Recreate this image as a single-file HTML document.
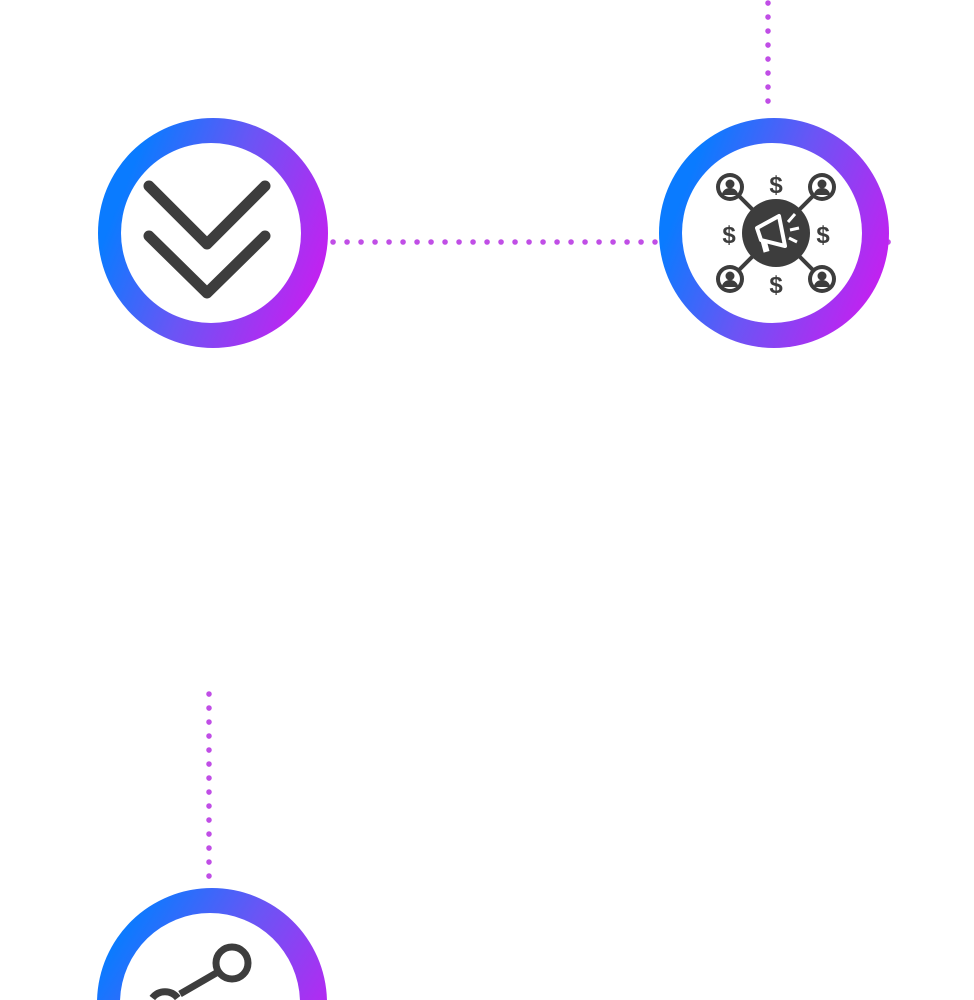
<!DOCTYPE html>
<html><head><meta charset="utf-8"><style>
html,body{margin:0;padding:0;background:#fff;overflow:hidden;width:974px;height:1000px}
svg{display:block}
</style></head><body>
<svg width="974" height="1000" viewBox="0 0 974 1000" xmlns="http://www.w3.org/2000/svg">
<defs>
<linearGradient id="g" x1="0" y1="0.3" x2="1" y2="0.7">
<stop offset="0.1" stop-color="#0a7bff"/>
<stop offset="0.5" stop-color="#6a55f5"/>
<stop offset="1" stop-color="#c81ef0"/>
</linearGradient>
<linearGradient id="g2" gradientUnits="userSpaceOnUse" x1="97" y1="920" x2="327" y2="1060">
<stop offset="0.1" stop-color="#0a7bff"/>
<stop offset="0.5" stop-color="#6a55f5"/>
<stop offset="1" stop-color="#c81ef0"/>
</linearGradient>
<clipPath id="c"><rect x="0" y="0" width="974" height="1000"/></clipPath>
</defs>
<g clip-path="url(#c)">
<g stroke="#c04ee6" stroke-width="5.5" stroke-linecap="round" stroke-dasharray="0.1 13.9" fill="none">
<line x1="333" y1="242" x2="655" y2="242"/>
<line x1="768" y1="3" x2="768" y2="114"/>
<line x1="888" y1="242" x2="890" y2="242"/>
<line x1="209" y1="694" x2="209" y2="886"/>
</g>
<circle cx="213" cy="233" r="115" fill="url(#g)"/>
<circle cx="211" cy="233" r="90" fill="#fff"/>
<circle cx="774" cy="233" r="115" fill="url(#g)"/>
<circle cx="772" cy="233" r="90" fill="#fff"/>
<path d="M97.04 1000 A115 115 0 0 1 326.96 1000 Z" fill="url(#g2)"/>
<path d="M120.05 1000 A90 90 0 0 1 299.95 1000 Z" fill="#fff"/>
<g stroke="#3d3d3d" stroke-width="11" stroke-linecap="round" stroke-linejoin="round" fill="none">
<polyline points="149,186 207,244 265,186"/>
<polyline points="149,236 207,293 265,236"/>
</g>
<g stroke="#3d3d3d" stroke-width="7" fill="none">
<circle cx="232" cy="963" r="16"/>
<path d="M152.3 998 A16 16 0 0 1 177.7 998"/>
<line x1="218" y1="972" x2="180" y2="994"/>
</g>
<g>
<g stroke="#3d3d3d" stroke-width="4">
<line x1="730" y1="187" x2="822" y2="279"/>
<line x1="822" y1="187" x2="730" y2="279"/>
</g>
<circle cx="776" cy="233" r="34" fill="#3d3d3d"/>
<g fill="#fff">
<path d="M757 228 l22 -12 l6 30 l-24 -6 z" fill="none" stroke="#fff" stroke-width="4" stroke-linejoin="round"/>
<rect x="762" y="240" width="6" height="12" fill="#fff" transform="rotate(-15 765 246)"/>
<line x1="788" y1="222" x2="795" y2="214" stroke="#fff" stroke-width="3"/>
<line x1="790" y1="230" x2="799" y2="228" stroke="#fff" stroke-width="3"/>
<line x1="789" y1="238" x2="797" y2="242" stroke="#fff" stroke-width="3"/>
</g>
<g>
<circle cx="730" cy="187" r="14" fill="#3d3d3d"/><circle cx="730" cy="187" r="10" fill="#fff"/><circle cx="730" cy="184" r="4.5" fill="#3d3d3d"/><path d="M722 195 a8 7 0 0 1 16 0 z" fill="#3d3d3d"/>
<circle cx="822" cy="187" r="14" fill="#3d3d3d"/><circle cx="822" cy="187" r="10" fill="#fff"/><circle cx="822" cy="184" r="4.5" fill="#3d3d3d"/><path d="M814 195 a8 7 0 0 1 16 0 z" fill="#3d3d3d"/>
<circle cx="730" cy="279" r="14" fill="#3d3d3d"/><circle cx="730" cy="279" r="10" fill="#fff"/><circle cx="730" cy="276" r="4.5" fill="#3d3d3d"/><path d="M722 287 a8 7 0 0 1 16 0 z" fill="#3d3d3d"/>
<circle cx="822" cy="279" r="14" fill="#3d3d3d"/><circle cx="822" cy="279" r="10" fill="#fff"/><circle cx="822" cy="276" r="4.5" fill="#3d3d3d"/><path d="M814 287 a8 7 0 0 1 16 0 z" fill="#3d3d3d"/>
</g>
<g font-family="Liberation Sans, sans-serif" font-weight="bold" font-size="24" fill="#3d3d3d" text-anchor="middle">
<text x="776" y="193">$</text>
<text x="776" y="293">$</text>
<text x="729" y="243">$</text>
<text x="823" y="243">$</text>
</g>
</g>
</g>
</svg>
</body></html>
